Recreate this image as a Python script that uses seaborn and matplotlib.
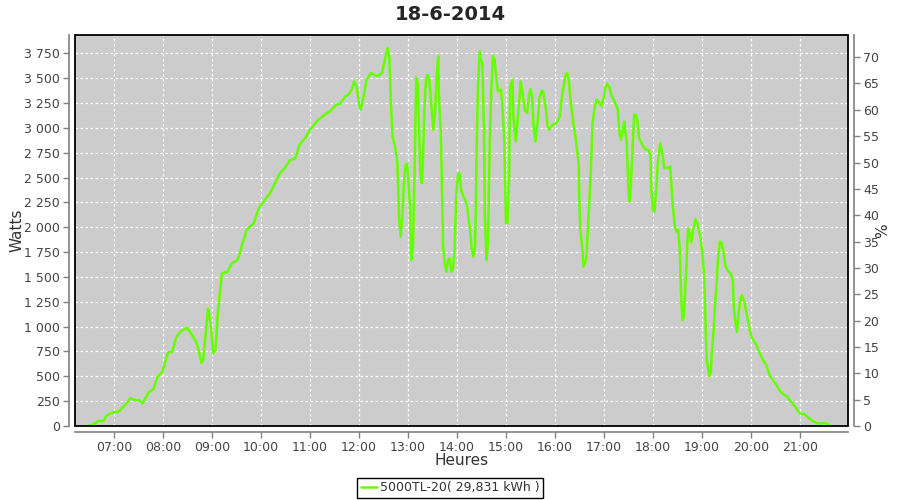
import pandas as pd
import matplotlib.pyplot as plt
import matplotlib.dates as mdates
import seaborn as sns
from matplotlib.ticker import FuncFormatter, MultipleLocator
from matplotlib.patches import Rectangle

# readings of the day (heure, watts)
heures = [
    '06:28', '06:35', '06:40', '06:47', '06:50', '06:55',
    '07:00', '07:05', '07:11', '07:16', '07:20', '07:26', '07:31', '07:35', '07:42', '07:48', '07:53', '07:59',
    '08:02', '08:06', '08:11', '08:16', '08:21', '08:29', '08:34', '08:40', '08:43', '08:47', '08:49', '08:51', '08:55', '08:56', '08:59',
    '09:01', '09:04', '09:07', '09:12', '09:19', '09:24', '09:31', '09:34', '09:37', '09:40', '09:42', '09:51', '09:57',
    '10:03', '10:11', '10:17', '10:23', '10:29', '10:35', '10:42', '10:47', '10:54',
    '11:00', '11:10', '11:18', '11:24', '11:32', '11:37', '11:43', '11:47', '11:52', '11:54', '11:57',
    '12:00', '12:02', '12:06', '12:09', '12:15', '12:22', '12:28', '12:32', '12:35', '12:37', '12:39', '12:41', '12:44', '12:47', '12:49', '12:51', '12:53', '12:55', '12:57', '12:59',
    '13:01', '13:02', '13:04', '13:06', '13:08', '13:10', '13:12', '13:13', '13:15', '13:17', '13:18', '13:20', '13:22', '13:24', '13:26', '13:29', '13:31', '13:33', '13:35', '13:37', '13:38', '13:40', '13:41', '13:43', '13:45', '13:47', '13:49', '13:51', '13:53', '13:55', '13:57', '13:59',
    '14:01', '14:03', '14:05', '14:08', '14:11', '14:13', '14:16', '14:18', '14:20', '14:22', '14:23', '14:24', '14:26', '14:28', '14:29', '14:31', '14:33', '14:34', '14:36', '14:38', '14:40', '14:42', '14:44', '14:46', '14:48', '14:50', '14:54', '14:56', '14:58',
    '15:00', '15:02', '15:04', '15:05', '15:08', '15:09', '15:12', '15:15', '15:18', '15:20', '15:23', '15:26', '15:28', '15:30', '15:32', '15:34', '15:36', '15:39', '15:41', '15:44', '15:46', '15:49', '15:51', '15:53', '15:57',
    '16:02', '16:06', '16:08', '16:11', '16:13', '16:15', '16:17', '16:19', '16:22', '16:25', '16:27', '16:29', '16:30', '16:31', '16:33', '16:35', '16:38', '16:39', '16:41', '16:42', '16:44', '16:46', '16:49', '16:51', '16:55', '16:57',
    '17:00', '17:02', '17:04', '17:07', '17:09', '17:12', '17:15', '17:17', '17:19', '17:21', '17:23', '17:25', '17:26', '17:28', '17:30', '17:31', '17:33', '17:35', '17:37', '17:39', '17:41', '17:43', '17:46', '17:48', '17:52', '17:55', '17:57', '17:58',
    '18:00', '18:02', '18:04', '18:06', '18:09', '18:12', '18:14', '18:18', '18:21', '18:22', '18:24', '18:27', '18:29', '18:31', '18:33', '18:34', '18:36', '18:38', '18:40', '18:42', '18:43', '18:45', '18:47', '18:49', '18:52', '18:54', '18:58',
    '19:01', '19:03', '19:05', '19:06', '19:09', '19:11', '19:12', '19:14', '19:16', '19:18', '19:20', '19:22', '19:24', '19:26', '19:29', '19:32', '19:35', '19:38', '19:39', '19:41', '19:43', '19:45', '19:47', '19:49', '19:52', '19:54', '19:57',
    '20:00', '20:03', '20:07', '20:11', '20:15', '20:19', '20:23', '20:27', '20:31', '20:35', '20:40', '20:44', '20:48', '20:52', '20:56',
    '21:00', '21:06', '21:10', '21:16', '21:22', '21:29', '21:33', '21:37',
]
watts = [
    0, 15, 50, 50, 98, 125,
    141, 141, 192, 236, 282, 259, 259, 229, 337, 370, 494, 544,
    629, 740, 746, 891, 948, 988, 934, 854, 780, 635, 662, 830, 1183, 1149, 965,
    730, 763, 1133, 1536, 1552, 1637, 1670, 1738, 1838, 1905, 1973, 2040, 2191,
    2258, 2343, 2443, 2544, 2595, 2671, 2695, 2829, 2897,
    2981, 3081, 3132, 3165, 3232, 3243, 3316, 3333, 3401, 3467, 3417,
    3232, 3182, 3333, 3485, 3552, 3518, 3552, 3703, 3804, 3720, 3250, 2913, 2812, 2645, 2100, 1905, 2107, 2443, 2628, 2638,
    2409, 2242, 1670, 1804, 2544, 3502, 3451, 3115, 2544, 2443, 2611, 3182, 3485, 3535, 3485, 3182, 2981, 3149, 3518, 3720, 3283, 2981, 2611, 1804, 1637, 1552, 1670, 1687, 1552, 1569, 1771, 2308,
    2527, 2544, 2376, 2308, 2258, 2174, 1973, 1771, 1704, 1804, 2141, 2812, 3485, 3770, 3686, 3653, 2981, 2141, 1670, 1838, 2812, 3384, 3720, 3686, 3518, 3367, 3384, 3149, 2847,
    2040, 2040, 2577, 3417, 3485, 3115, 2863, 3149, 3467, 3367, 3182, 3149, 3316, 3391, 3316, 2981, 2863, 3081, 3300, 3377, 3350, 3182, 3014, 2981, 3031,
    3048, 3115, 3283, 3434, 3535, 3552, 3485, 3283, 3081, 2913, 2779, 2645, 2242, 1973, 1838, 1603, 1670, 1771, 2074, 2242, 2577, 3048, 3216, 3283, 3250, 3216,
    3316, 3417, 3444, 3401, 3333, 3283, 3232, 3182, 2947, 2880, 2981, 3064, 2981, 2847, 2376, 2258, 2409, 2779, 3132, 3132, 3081, 2897, 2847, 2812, 2779, 2772, 2712, 2376,
    2174, 2157, 2376, 2645, 2847, 2712, 2595, 2595, 2611, 2510, 2242, 2006, 1956, 1973, 1771, 1435, 1065, 1099, 1435, 1804, 1990, 1939, 1850, 1965, 2081, 2056, 1905,
    1704, 1469, 864, 662, 501, 544, 730, 914, 1200, 1435, 1704, 1855, 1845, 1771, 1603, 1562, 1536, 1469, 1200, 1049, 948, 1133, 1267, 1317, 1250, 1166, 1032,
    914, 864, 813, 730, 662, 612, 511, 461, 420, 360, 317, 299, 259, 219, 175,
    125, 118, 85, 50, 24, 30, 24, 4,
]
serie = '5000TL-20( 29,831 kWh )'

df = pd.DataFrame({'heure': pd.to_datetime(['2014-06-18 ' + h for h in heures]), 'watts': watts})

sns.set_theme(style='white')
plt.rcParams['font.family'] = ['DejaVu Sans']

fig = plt.figure(figsize=(9, 5), dpi=100)
ax = fig.add_axes([75 / 900, 74 / 500, 773 / 900, 391 / 500])
ax.set_facecolor('#cccccc')

sns.lineplot(data=df, x='heure', y='watts', color='#66ff00', linewidth=1.8,
             estimator=None, sort=False, ax=ax, label=serie, legend=False)

ax.set_xlim(pd.Timestamp('2014-06-18 06:12'), pd.Timestamp('2014-06-18 21:59'))
ax.set_ylim(0, 3934)
ax.yaxis.set_major_locator(MultipleLocator(250))
ax.yaxis.set_major_formatter(FuncFormatter(lambda v, p: f'{int(v):,}'.replace(',', ' ')))
ax.xaxis.set_major_locator(mdates.HourLocator(byhour=range(7, 22)))
ax.xaxis.set_major_formatter(mdates.DateFormatter('%H:%M'))
ax.grid(True, color='white', linestyle=(0, (2, 2)), linewidth=0.9)

ax2 = ax.twinx()
ax2.set_ylim(0, 74.2)
ax2.yaxis.set_major_locator(MultipleLocator(5))
ax2.grid(False)

for a in (ax, ax2):
    for s in a.spines.values():
        s.set_visible(False)
    a.tick_params(direction='out', length=4, width=1, color='#808080', labelcolor='#444444', labelsize=9, pad=3)
for a, side in ((ax, 'left'), (ax, 'bottom'), (ax2, 'right')):
    a.spines[side].set_visible(True)
    a.spines[side].set_position(('outward', 4))
    a.spines[side].set_color('#808080')
    a.spines[side].set_linewidth(1.2)
ax.tick_params(axis='y', left=True)
ax.tick_params(axis='x', bottom=True)
ax2.tick_params(axis='y', right=True)

ax.add_patch(Rectangle((0, 0), 1, 1, transform=ax.transAxes, fill=False,
                       edgecolor='black', linewidth=1.3, zorder=5, clip_on=False))

ax.set_xlabel('Heures', fontsize=11, color='#333333')
ax.set_ylabel('Watts', fontsize=11, color='#333333')
ax2.set_ylabel('%', fontsize=11, color='#333333')
ax.xaxis.set_label_coords(0.5, -0.069)
ax.yaxis.set_label_coords(-0.065, 0.5)
ax2.yaxis.set_label_coords(1.0349, 0.5)

fig.text(0.5, 1 - 14 / 500, '18-6-2014', ha='center', va='center', fontsize=14, fontweight='bold')

handles, labels = ax.get_legend_handles_labels()
leg = fig.legend(handles, labels, loc='center', bbox_to_anchor=(0.5, 1 - 488 / 500),
                 frameon=True, fancybox=False, edgecolor='black', framealpha=1,
                 fontsize=9, borderpad=0.3, handlelength=1.3, handletextpad=0.2,
                 borderaxespad=0)
leg.get_frame().set_linewidth(1)
for t in leg.get_texts():
    t.set_color('#333333')

fig.savefig('out.png', dpi=100)
